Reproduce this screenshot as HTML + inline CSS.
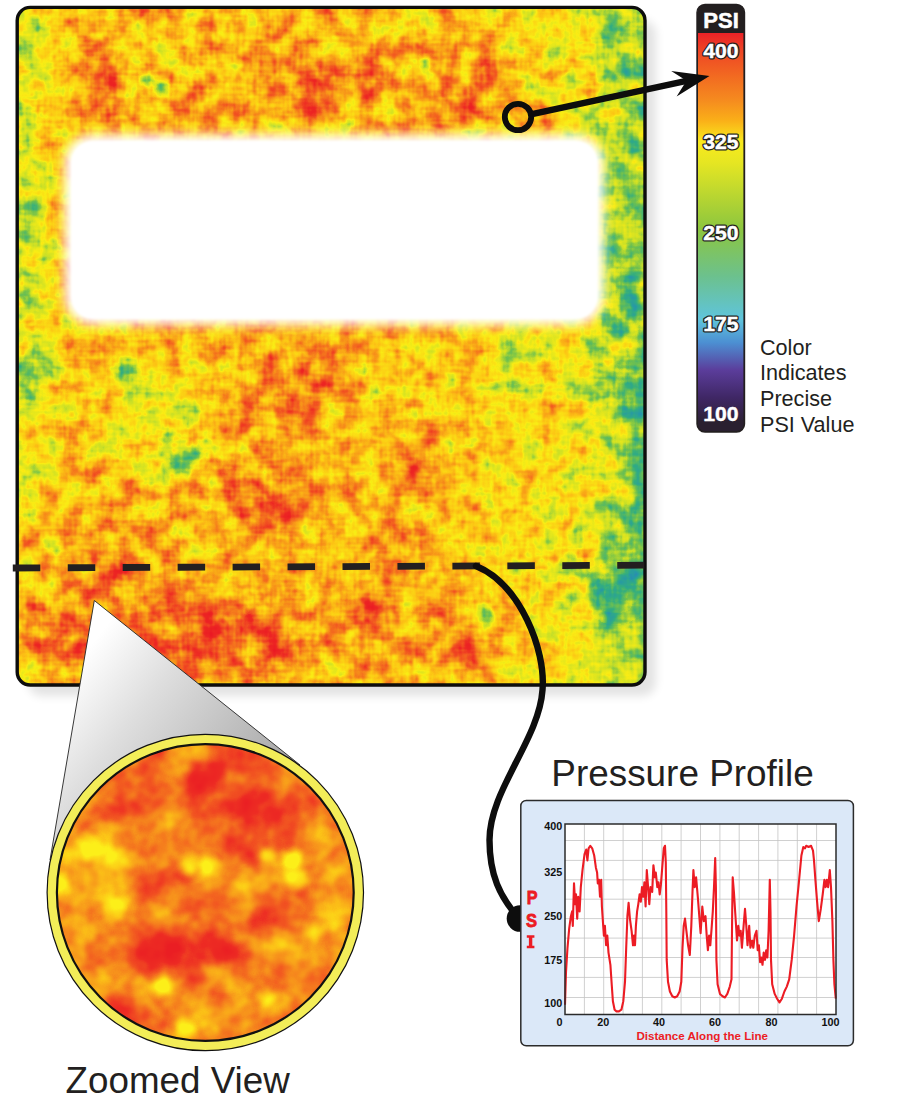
<!DOCTYPE html>
<html>
<head>
<meta charset="utf-8">
<title>Pressure Map</title>
<style>
html,body{margin:0;padding:0;background:#fff;}
body{width:900px;height:1113px;overflow:hidden;font-family:"Liberation Sans",sans-serif;}
svg{display:block;}
text{font-family:"Liberation Sans",sans-serif;}
</style>
</head>
<body>
<svg width="900" height="1113" viewBox="0 0 900 1113">
<defs>
  <!-- heat map colouring: grey bias (SourceGraphic) + turbulence -> colour table -->
  <filter id="heat" filterUnits="userSpaceOnUse" x="0" y="0" width="660" height="700" color-interpolation-filters="sRGB">
    <feTurbulence type="fractalNoise" baseFrequency="0.05" numOctaves="3" seed="7" result="n"/>
    <feColorMatrix in="n" type="matrix" values="0.62 0 0 0 0.19  0.62 0 0 0 0.19  0.62 0 0 0 0.19  0 0 0 0 1" result="ng"/>
    <feTurbulence type="fractalNoise" baseFrequency="0.035 0.3" numOctaves="1" seed="3" result="w1"/>
    <feTurbulence type="fractalNoise" baseFrequency="0.3 0.035" numOctaves="1" seed="5" result="w2"/>
    <feComposite in="w1" in2="w2" operator="arithmetic" k1="0" k2="0.5" k3="0.5" k4="0" result="w"/>
    <feColorMatrix in="w" type="matrix" values="0.26 0 0 0 0.37  0.26 0 0 0 0.37  0.26 0 0 0 0.37  0 0 0 0 1" result="wg"/>
    <feComposite in="ng" in2="wg" operator="arithmetic" k1="0" k2="1" k3="1" k4="-0.5" result="nn"/>
    <feComposite in="SourceGraphic" in2="nn" operator="arithmetic" k1="0" k2="1" k3="1" k4="-0.5" result="v"/>
    <feComponentTransfer in="v">
      <feFuncR type="table" tableValues="0.20 0.15 0.20 0.45 0.80 0.98 0.99 0.97 0.95 0.93 0.92"/>
      <feFuncG type="table" tableValues="0.45 0.60 0.68 0.76 0.88 0.93 0.78 0.58 0.35 0.15 0.10"/>
      <feFuncB type="table" tableValues="0.78 0.65 0.50 0.30 0.15 0.08 0.08 0.10 0.13 0.14 0.14"/>
      <feFuncA type="linear" slope="0" intercept="1"/>
    </feComponentTransfer>
  </filter>
  <filter id="heatz" filterUnits="userSpaceOnUse" x="40" y="730" width="330" height="330" color-interpolation-filters="sRGB">
    <feTurbulence type="fractalNoise" baseFrequency="0.03" numOctaves="3" seed="11" result="n"/>
    <feColorMatrix in="n" type="matrix" values="0.44 0 0 0 0.28  0.44 0 0 0 0.28  0.44 0 0 0 0.28  0 0 0 0 1" result="ng"/>
    <feComposite in="SourceGraphic" in2="ng" operator="arithmetic" k1="0" k2="1" k3="1" k4="-0.5" result="v"/>
    <feComponentTransfer in="v">
      <feFuncR type="table" tableValues="0.99 0.99 0.99 0.99 0.99 0.99 0.99 0.97 0.95 0.93 0.92"/>
      <feFuncG type="table" tableValues="0.94 0.94 0.94 0.94 0.94 0.94 0.78 0.58 0.35 0.17 0.12"/>
      <feFuncB type="table" tableValues="0.10 0.10 0.10 0.10 0.10 0.10 0.09 0.11 0.13 0.14 0.14"/>
      <feFuncA type="linear" slope="0" intercept="1"/>
    </feComponentTransfer>
  </filter>
  <filter id="b12" x="-50%" y="-50%" width="200%" height="200%"><feGaussianBlur stdDeviation="12"/></filter>
  <filter id="b20" x="-50%" y="-50%" width="200%" height="200%"><feGaussianBlur stdDeviation="20"/></filter>
  <filter id="b5" x="-20%" y="-20%" width="140%" height="140%"><feGaussianBlur stdDeviation="5.5"/></filter>
  <filter id="b3" x="-150%" y="-150%" width="400%" height="400%"><feGaussianBlur stdDeviation="2.8"/></filter>
  <filter id="b5w" x="-150%" y="-150%" width="400%" height="400%"><feGaussianBlur stdDeviation="4.5"/></filter>
  <filter id="b1" x="-20%" y="-20%" width="140%" height="140%"><feGaussianBlur stdDeviation="1.2"/></filter>
  <filter id="sh" x="-10%" y="-10%" width="120%" height="120%"><feGaussianBlur stdDeviation="5"/></filter>
  <clipPath id="mapclip"><rect x="17.2" y="7.4" width="627.8" height="677.6" rx="13"/></clipPath>
  <linearGradient id="hbias" gradientUnits="userSpaceOnUse" x1="17" y1="0" x2="645" y2="0">
    <stop offset="0" stop-color="rgb(118,118,118)"/>
    <stop offset="0.045" stop-color="rgb(138,138,138)"/>
    <stop offset="0.12" stop-color="rgb(166,166,166)"/>
    <stop offset="0.50" stop-color="rgb(157,157,157)"/>
    <stop offset="0.74" stop-color="rgb(146,146,146)"/>
    <stop offset="0.90" stop-color="rgb(128,128,128)"/>
    <stop offset="0.935" stop-color="rgb(102,102,102)"/>
    <stop offset="1" stop-color="rgb(88,88,88)"/>
  </linearGradient>
  <linearGradient id="bar" x1="0" y1="0" x2="0" y2="1">
    <stop offset="0" stop-color="#ea2227"/>
    <stop offset="0.043" stop-color="#ee4425"/>
    <stop offset="0.11" stop-color="#f26a21"/>
    <stop offset="0.17" stop-color="#f58a1f"/>
    <stop offset="0.222" stop-color="#faae18"/>
    <stop offset="0.278" stop-color="#f9ea1d"/>
    <stop offset="0.33" stop-color="#e6e622"/>
    <stop offset="0.50" stop-color="#8cc63f"/>
    <stop offset="0.62" stop-color="#6cc18d"/>
    <stop offset="0.73" stop-color="#5fc4dc"/>
    <stop offset="0.79" stop-color="#4c8fd2"/>
    <stop offset="0.86" stop-color="#5b3d9b"/>
    <stop offset="0.93" stop-color="#3f2765"/>
    <stop offset="1" stop-color="#2a2030"/>
  </linearGradient>
</defs>

<!-- ===== MAIN MAP ===== -->
<g id="mainmap">
  <!-- shadow -->
  <rect x="28" y="20" width="628" height="676" rx="14" fill="#000" opacity="0.11" filter="url(#sh)"/>
  <g clip-path="url(#mapclip)">
    <g filter="url(#heat)">
            <g id="bias">
      <rect x="0" y="0" width="660" height="700" fill="url(#hbias)"/>
      <ellipse cx="313" cy="85" rx="20" ry="28" fill="rgb(215,215,215)" opacity="1" filter="url(#b12)"/>
      <ellipse cx="267" cy="53" rx="20" ry="15" fill="rgb(200,200,200)" filter="url(#b12)"/>
      <ellipse cx="105" cy="85" rx="22" ry="25" fill="rgb(200,200,200)" filter="url(#b12)"/>
      <ellipse cx="197" cy="107" rx="18" ry="13" fill="rgb(190,190,190)" filter="url(#b12)"/>
      <ellipse cx="152" cy="58" rx="26" ry="30" fill="rgb(128,128,128)" filter="url(#b12)"/>
      <ellipse cx="227" cy="33" rx="20" ry="15" fill="rgb(132,132,132)" filter="url(#b12)"/>
      <ellipse cx="147" cy="80" rx="6" ry="6" fill="rgb(72,72,72)" filter="url(#b3)"/>
      <ellipse cx="162" cy="90" rx="7" ry="7" fill="rgb(60,60,60)" filter="url(#b3)"/>
      <ellipse cx="425" cy="78" rx="95" ry="45" fill="rgb(172,172,172)" opacity="0.9" filter="url(#b20)"/>
      <ellipse cx="483" cy="70" rx="15" ry="14" fill="rgb(208,208,208)" filter="url(#b5w)"/>
      <ellipse cx="370" cy="80" rx="18" ry="18" fill="rgb(192,192,192)" filter="url(#b5w)"/>
      <ellipse cx="453" cy="112" rx="28" ry="11" fill="rgb(202,202,202)" filter="url(#b5w)"/>
      <ellipse cx="410" cy="20" rx="30" ry="9" fill="rgb(135,135,135)" filter="url(#b5w)"/>
      <ellipse cx="426" cy="62" rx="5" ry="6" fill="rgb(60,60,60)" filter="url(#b3)"/>
      <ellipse cx="525" cy="120" rx="28" ry="16" fill="rgb(178,178,178)" opacity="1" filter="url(#b12)"/>
      <ellipse cx="275" cy="440" rx="50" ry="100" fill="rgb(170,170,170)" opacity="0.8" filter="url(#b20)"/>
      <ellipse cx="150" cy="418" rx="58" ry="66" fill="rgb(116,116,116)" opacity="0.85" filter="url(#b20)"/>
      <ellipse cx="32" cy="600" rx="18" ry="95" fill="rgb(168,168,168)" filter="url(#b12)"/>
      <ellipse cx="125" cy="373" rx="11" ry="13" fill="rgb(70,70,70)" filter="url(#b5w)"/>
      <ellipse cx="162" cy="474" rx="10" ry="8" fill="rgb(70,70,70)" filter="url(#b5w)"/>
      <ellipse cx="270" cy="500" rx="40" ry="30" fill="rgb(198,198,198)" opacity="1" filter="url(#b12)"/>
      <ellipse cx="310" cy="380" rx="40" ry="28" fill="rgb(188,188,188)" opacity="1" filter="url(#b12)"/>
      <ellipse cx="395" cy="545" rx="30" ry="20" fill="rgb(195,195,195)" opacity="1" filter="url(#b12)"/>
      <ellipse cx="190" cy="638" rx="130" ry="38" fill="rgb(203,203,203)" opacity="0.9" filter="url(#b12)"/>
      <ellipse cx="108" cy="574" rx="30" ry="18" fill="rgb(205,205,205)" opacity="1" filter="url(#b12)"/>
      <ellipse cx="420" cy="470" rx="28" ry="40" fill="rgb(178,178,178)" opacity="1" filter="url(#b12)"/>
      <ellipse cx="60" cy="640" rx="32" ry="32" fill="rgb(198,198,198)" opacity="1" filter="url(#b12)"/>
      <ellipse cx="420" cy="630" rx="110" ry="40" fill="rgb(178,178,178)" opacity="0.8" filter="url(#b20)"/>
      <ellipse cx="184" cy="457" rx="15" ry="13" fill="rgb(66,66,66)" opacity="1" filter="url(#b5w)"/>
      <ellipse cx="35" cy="370" rx="20" ry="30" fill="rgb(84,84,84)" opacity="1" filter="url(#b12)"/>
      <ellipse cx="28" cy="240" rx="13" ry="85" fill="rgb(92,92,92)" opacity="1" filter="url(#b12)"/>
      <ellipse cx="30" cy="32" rx="14" ry="24" fill="rgb(100,100,100)" opacity="1" filter="url(#b12)"/>
      <ellipse cx="628" cy="50" rx="16" ry="45" fill="rgb(86,86,86)" opacity="1" filter="url(#b12)"/>
      <ellipse cx="630" cy="290" rx="14" ry="42" fill="rgb(68,68,68)" opacity="1" filter="url(#b12)"/>
      <ellipse cx="616" cy="593" rx="27" ry="22" fill="rgb(30,30,30)" opacity="1" filter="url(#b12)"/>
      <ellipse cx="604" cy="388" rx="26" ry="20" fill="rgb(58,58,58)" filter="url(#b12)"/>
      <ellipse cx="577" cy="535" rx="12" ry="16" fill="rgb(80,80,80)" filter="url(#b5w)"/>
      <ellipse cx="484" cy="617" rx="8" ry="14" fill="rgb(85,85,85)" filter="url(#b5w)"/>
      <ellipse cx="640" cy="450" rx="9" ry="115" fill="rgb(58,58,58)" filter="url(#b5w)"/>
      <ellipse cx="367" cy="612" rx="15" ry="15" fill="rgb(205,205,205)" filter="url(#b5w)"/>
      <ellipse cx="458" cy="652" rx="24" ry="14" fill="rgb(198,198,198)" filter="url(#b5w)"/>
      <ellipse cx="560" cy="450" rx="45" ry="100" fill="rgb(134,134,134)" opacity="0.8" filter="url(#b20)"/>
      <ellipse cx="515" cy="355" rx="22" ry="20" fill="rgb(84,84,84)" opacity="1" filter="url(#b12)"/>
      <ellipse cx="560" cy="610" rx="25" ry="20" fill="rgb(125,125,125)" opacity="1" filter="url(#b12)"/>
      </g>
    </g>
  </g>
  <!-- white cut-out -->
  <rect x="64.5" y="134.5" width="539.5" height="190.5" rx="28" fill="#fff" filter="url(#b5)"/>
  <rect x="71.3" y="141" width="526" height="177.7" rx="22" fill="#fff" filter="url(#b1)"/>
  <rect x="17.2" y="7.4" width="627.8" height="677.6" rx="13" fill="none" stroke="#0d0d0d" stroke-width="3.4"/>
</g>

<!-- ===== COLOUR BAR ===== -->
<g id="colorbar">
  <rect x="697" y="4.5" width="47.5" height="427.5" rx="8" fill="#231f20"/>
  <rect x="698" y="33" width="45.5" height="392" fill="url(#bar)"/>
  <path d="M698 420 h45.5 v4 a7 7 0 0 1 -7 7 h-31.5 a7 7 0 0 1 -7 -7 z" fill="#2a2030"/>
  <rect x="697" y="4.5" width="47.5" height="427.5" rx="8" fill="none" stroke="#231f20" stroke-width="1.4"/>
  <g font-weight="bold" font-size="20" text-anchor="middle" fill="#fff">
    <text transform="translate(721.1 27.5) scale(1.03 1.07)" x="0" y="0" font-size="21.4" stroke="#fff" stroke-width="0.5">PSI</text>
    <g stroke="#231f20" stroke-width="3" stroke-linejoin="round">
      <text transform="translate(720.9 57.8) scale(1.06 1)">400</text>
      <text transform="translate(720.9 148.8) scale(1.06 1)">325</text>
      <text transform="translate(720.9 239.8) scale(1.06 1)">250</text>
      <text transform="translate(720.9 330.8) scale(1.06 1)">175</text>
    </g>
    <g stroke="#fff" stroke-width="0.4">
      <text transform="translate(720.9 57.8) scale(1.06 1)">400</text>
      <text transform="translate(720.9 148.8) scale(1.06 1)">325</text>
      <text transform="translate(720.9 239.8) scale(1.06 1)">250</text>
      <text transform="translate(720.9 330.8) scale(1.06 1)">175</text>
      <text transform="translate(720.9 421) scale(1.06 1)">100</text>
    </g>
  </g>
  <g font-size="21.6" fill="#231f20">
    <text x="760" y="354.5">Color</text>
    <text x="760" y="380.2">Indicates</text>
    <text x="760" y="406">Precise</text>
    <text x="760" y="431.7">PSI Value</text>
  </g>
</g>

<!-- ===== MARKER + ARROW ===== -->
<g id="marker">
  <circle cx="518" cy="117" r="13.2" fill="none" stroke="#0d0d0d" stroke-width="5.8"/>
  <line x1="532" y1="114.2" x2="690" y2="80.2" stroke="#0d0d0d" stroke-width="6.4"/>
  <path d="M709.5 76 L671.2 71 L686.5 80.8 L676.6 96.4 Z" fill="#0d0d0d"/>
</g>

<!-- ===== DASHED LINE + CURVE ===== -->
<g id="dash">
  <line x1="12.8" y1="568" x2="644.3" y2="565.2" stroke="#231f20" stroke-width="6.8" stroke-dasharray="27.5 27.45"/>
  <path d="M476 566 C 520 584 546 650 542.5 690 C 539 740 489.5 790 489.5 840 C 489.5 875 500 897 518 917" fill="none" stroke="#0d0d0d" stroke-width="6.4" stroke-linecap="round"/>
  <circle cx="520" cy="918.5" r="13.3" fill="#0d0d0d"/>
</g>

<!-- ===== ZOOM CONE + CIRCLE ===== -->
<g id="zoom">
  <defs>
    <linearGradient id="cone" gradientUnits="userSpaceOnUse" x1="95" y1="640" x2="300" y2="800">
      <stop offset="0" stop-color="#ffffff"/>
      <stop offset="0.3" stop-color="#dedede"/>
      <stop offset="1" stop-color="#9c9c9c"/>
    </linearGradient>
    <clipPath id="zc"><circle cx="205.3" cy="892.5" r="148"/></clipPath>
  </defs>
  <path d="M94.3 600.5 L50 860 L300 765 Z" fill="url(#cone)" stroke="#222" stroke-width="0.9" stroke-linejoin="round"/>
  <circle cx="205.3" cy="892.5" r="158.2" fill="#f3ed58" stroke="#111" stroke-width="1.2"/>
  <g clip-path="url(#zc)"><g id="zoomheat" filter="url(#heatz)">
    <rect x="40" y="730" width="330" height="330" fill="rgb(184,184,184)"/>
    <ellipse cx="96" cy="868" rx="38" ry="55" fill="rgb(160,160,160)" opacity="0.95" filter="url(#b12)"/>
    <ellipse cx="338" cy="892" rx="18" ry="60" fill="rgb(162,162,162)" opacity="0.9" filter="url(#b12)"/>
    <ellipse cx="226" cy="1008" rx="60" ry="25" fill="rgb(168,168,168)" opacity="0.8" filter="url(#b12)"/>
    <ellipse cx="245" cy="796" rx="62" ry="44" fill="rgb(218,218,218)" opacity="1" filter="url(#b12)"/>
    <ellipse cx="263" cy="807" rx="20" ry="15" fill="rgb(230,230,230)" opacity="1" filter="url(#b5w)"/>
    <ellipse cx="207" cy="773" rx="18" ry="13" fill="rgb(228,228,228)" opacity="1" filter="url(#b5w)"/>
    <ellipse cx="174" cy="952" rx="64" ry="28" fill="rgb(216,216,216)" opacity="1" filter="url(#b12)"/>
    <ellipse cx="167" cy="948" rx="16" ry="13" fill="rgb(230,230,230)" opacity="1" filter="url(#b5w)"/>
    <ellipse cx="219" cy="952" rx="16" ry="13" fill="rgb(230,230,230)" opacity="1" filter="url(#b5w)"/>
    <ellipse cx="274" cy="911" rx="28" ry="24" fill="rgb(208,208,208)" opacity="1" filter="url(#b12)"/>
    <ellipse cx="135" cy="801" rx="30" ry="22" fill="rgb(204,204,204)" opacity="1" filter="url(#b12)"/>
    <ellipse cx="207" cy="889" rx="20" ry="45" fill="rgb(202,202,202)" opacity="1" filter="url(#b12)"/>
    <ellipse cx="133" cy="1000" rx="22" ry="24" fill="rgb(200,200,200)" opacity="1" filter="url(#b12)"/>
    <ellipse cx="226" cy="1023" rx="22" ry="15" fill="rgb(200,200,200)" opacity="1" filter="url(#b12)"/>
    <ellipse cx="88" cy="848" rx="11" ry="11" fill="rgb(122,122,122)" opacity="1" filter="url(#b5w)"/>
    <ellipse cx="114" cy="907" rx="12" ry="12" fill="rgb(122,122,122)" opacity="1" filter="url(#b5w)"/>
    <ellipse cx="189" cy="866" rx="9" ry="9" fill="rgb(114,114,114)" opacity="1" filter="url(#b5w)"/>
    <ellipse cx="207" cy="866" rx="9" ry="9" fill="rgb(114,114,114)" opacity="1" filter="url(#b5w)"/>
    <ellipse cx="267" cy="855" rx="8" ry="8" fill="rgb(118,118,118)" opacity="1" filter="url(#b5w)"/>
    <ellipse cx="293" cy="859" rx="9" ry="9" fill="rgb(114,114,114)" opacity="1" filter="url(#b5w)"/>
    <ellipse cx="297" cy="878" rx="10" ry="10" fill="rgb(114,114,114)" opacity="1" filter="url(#b5w)"/>
    <ellipse cx="315" cy="933" rx="9" ry="9" fill="rgb(118,118,118)" opacity="1" filter="url(#b5w)"/>
    <ellipse cx="163" cy="986" rx="9" ry="9" fill="rgb(122,122,122)" opacity="1" filter="url(#b5w)"/>
    <ellipse cx="185" cy="1030" rx="9" ry="9" fill="rgb(122,122,122)" opacity="1" filter="url(#b5w)"/>
    <ellipse cx="267" cy="1000" rx="8" ry="8" fill="rgb(124,124,124)" opacity="1" filter="url(#b5w)"/>
    <ellipse cx="62" cy="881" rx="9" ry="9" fill="rgb(124,124,124)" opacity="1" filter="url(#b5w)"/>
  </g></g>
  <circle cx="205.3" cy="892.5" r="148.4" fill="none" stroke="#111" stroke-width="2.2"/>
</g>

<!-- ===== TITLES ===== -->
<g font-size="36.8" fill="#231f20">
  <text x="65.5" y="1093.2">Zoomed View</text>
  <text x="551.3" y="785.8" font-size="36.9">Pressure Profile</text>
</g>

<!-- ===== CHART ===== -->
<g id="chart">
  <rect x="520.8" y="800.4" width="332.6" height="245.4" rx="5.5" fill="#dbe8f8" stroke="#2b2b2b" stroke-width="1.5"/>
  <rect x="565" y="824" width="271" height="190.5" fill="#fff"/>
  <path d="M584.4 824V1014.5M603.7 824V1014.5M623.1 824V1014.5M642.4 824V1014.5M661.8 824V1014.5M681.1 824V1014.5M700.5 824V1014.5M719.9 824V1014.5M739.2 824V1014.5M758.6 824V1014.5M777.9 824V1014.5M797.3 824V1014.5M816.6 824V1014.5M565 840.5H836M565 860.4H836M565 879.8H836M565 899.2H836M565 918.6H836M565 938.1H836M565 957.5H836M565 977.4H836M565 997.5H836" stroke="#c4c4c4" stroke-width="0.8" fill="none"/>
  <polyline points="565.0,1004.8 566.0,972.0 567.5,947.8 569.2,928.3 570.9,916.2 572.1,911.4 572.8,925.9 574.0,883.4 575.2,904.1 576.0,894.4 577.2,918.6 578.2,896.8 579.6,911.4 580.8,887.1 582.5,870.1 584.5,854.3 586.2,849.5 587.4,860.4 588.6,848.3 590.3,845.8 592.2,848.3 594.2,855.5 595.9,867.7 597.1,872.5 597.8,883.4 599.0,879.8 600.0,896.8 601.2,879.8 601.9,906.5 603.2,925.9 603.9,935.6 604.9,925.9 606.1,945.3 607.3,935.6 608.5,952.6 610.4,964.8 611.7,984.2 612.9,1001.2 614.6,1009.7 616.5,1011.4 618.9,1011.4 621.4,1009.7 623.3,1001.2 625.0,981.7 626.2,947.8 627.4,916.2 628.6,902.9 629.9,918.6 631.6,930.8 633.0,945.3 634.0,935.6 635.0,945.3 635.9,925.9 637.1,911.4 638.3,904.1 639.6,894.4 640.8,901.7 642.0,887.1 643.2,896.8 644.4,882.2 645.6,906.5 646.8,870.1 648.1,887.1 649.3,904.1 650.5,887.1 652.2,891.9 653.4,865.2 654.9,877.4 655.8,872.5 657.3,887.1 658.5,882.2 659.7,894.4 660.9,884.7 662.6,862.8 663.8,848.3 665.0,845.8 665.8,862.8 666.3,911.4 666.7,959.9 668.0,981.7 669.9,991.5 672.3,996.3 674.8,997.5 677.2,996.3 679.6,991.5 681.3,981.7 682.5,947.8 683.7,925.9 685.0,918.6 686.4,930.8 688.1,945.3 689.8,955.0 691.3,925.9 692.5,891.9 693.4,870.1 694.7,887.1 696.1,877.4 697.8,896.8 700.6,933.2 702.3,906.5 703.8,921.1 705.5,916.2 706.7,935.6 707.9,950.2 709.1,935.6 710.3,945.3 711.6,928.3 712.8,911.4 714.0,887.1 715.2,858.0 715.9,887.1 716.4,959.9 717.6,984.2 720.0,993.9 722.5,996.3 724.9,997.5 727.3,993.9 729.8,986.6 731.5,979.3 732.2,911.4 732.7,877.4 733.9,891.9 735.3,913.8 737.0,940.5 738.3,925.9 739.5,935.6 740.7,930.8 741.9,947.8 743.6,925.9 745.0,908.9 746.3,925.9 747.5,945.3 749.2,925.9 750.4,947.8 752.1,940.5 753.3,947.8 754.8,935.6 756.5,930.8 757.7,950.2 758.9,945.3 760.1,962.3 761.3,957.5 762.5,964.8 763.7,952.6 765.0,959.9 766.2,950.2 767.4,957.5 768.6,930.8 769.8,879.8 770.5,911.4 771.0,959.9 772.2,984.2 774.7,993.9 777.1,998.7 779.5,1002.4 781.9,998.7 784.4,991.5 786.8,986.6 789.2,979.3 791.7,959.9 794.1,935.6 796.5,906.5 798.9,882.2 801.4,855.5 803.3,847.0 805.0,848.3 806.2,845.8 808.6,847.0 811.1,845.8 813.0,850.7 814.0,860.4 815.4,879.8 817.1,901.7 818.8,921.1 820.8,908.9 822.7,894.4 824.4,879.8 825.6,887.1 826.8,879.8 828.1,887.1 829.8,870.1 831.0,887.1 832.4,921.1 833.4,959.9 834.4,984.2 835.8,998.7" fill="none" stroke="#ec1c24" stroke-width="2.1" stroke-linejoin="round"/>
  <rect x="565" y="824" width="271" height="190.5" fill="none" stroke="#2b2b2b" stroke-width="1.5"/>
  <g font-weight="bold" font-size="10.8" fill="#111" text-anchor="end">
  <text x="562.3" y="830.3">400</text>
  <text x="562.3" y="876.4">325</text>
  <text x="562.3" y="920.1">250</text>
  <text x="562.3" y="963.9">175</text>
  <text x="562.3" y="1006.9">100</text>
  </g>
  <g font-weight="bold" font-size="10.8" fill="#111" text-anchor="middle">
  <text x="559.5" y="1026">0</text>
  <text x="603.3" y="1026">20</text>
  <text x="659.0" y="1026">40</text>
  <text x="715.0" y="1026">60</text>
  <text x="771.5" y="1026">80</text>
  <text x="830.5" y="1026">100</text>
  </g>
  <text x="702.2" y="1039.6" font-weight="bold" font-size="11.6" fill="#ec1c24" text-anchor="middle">Distance Along the Line</text>
  <g font-weight="bold" font-size="18.4" fill="#ec1c24" stroke="#ec1c24" stroke-width="0.8" text-anchor="middle"><text transform="translate(532.2 903.9) scale(0.88 1)">P</text><text transform="translate(531.5 926.5) scale(0.9 1)">S</text></g>
  <path d="M526.8 935.2h7.6v2.5h-2.1v8.1h2.1v2.5h-7.6v-2.5h2.1v-8.1h-2.1z" fill="#ec1c24"/>
</g>

</svg>
</body>
</html>
